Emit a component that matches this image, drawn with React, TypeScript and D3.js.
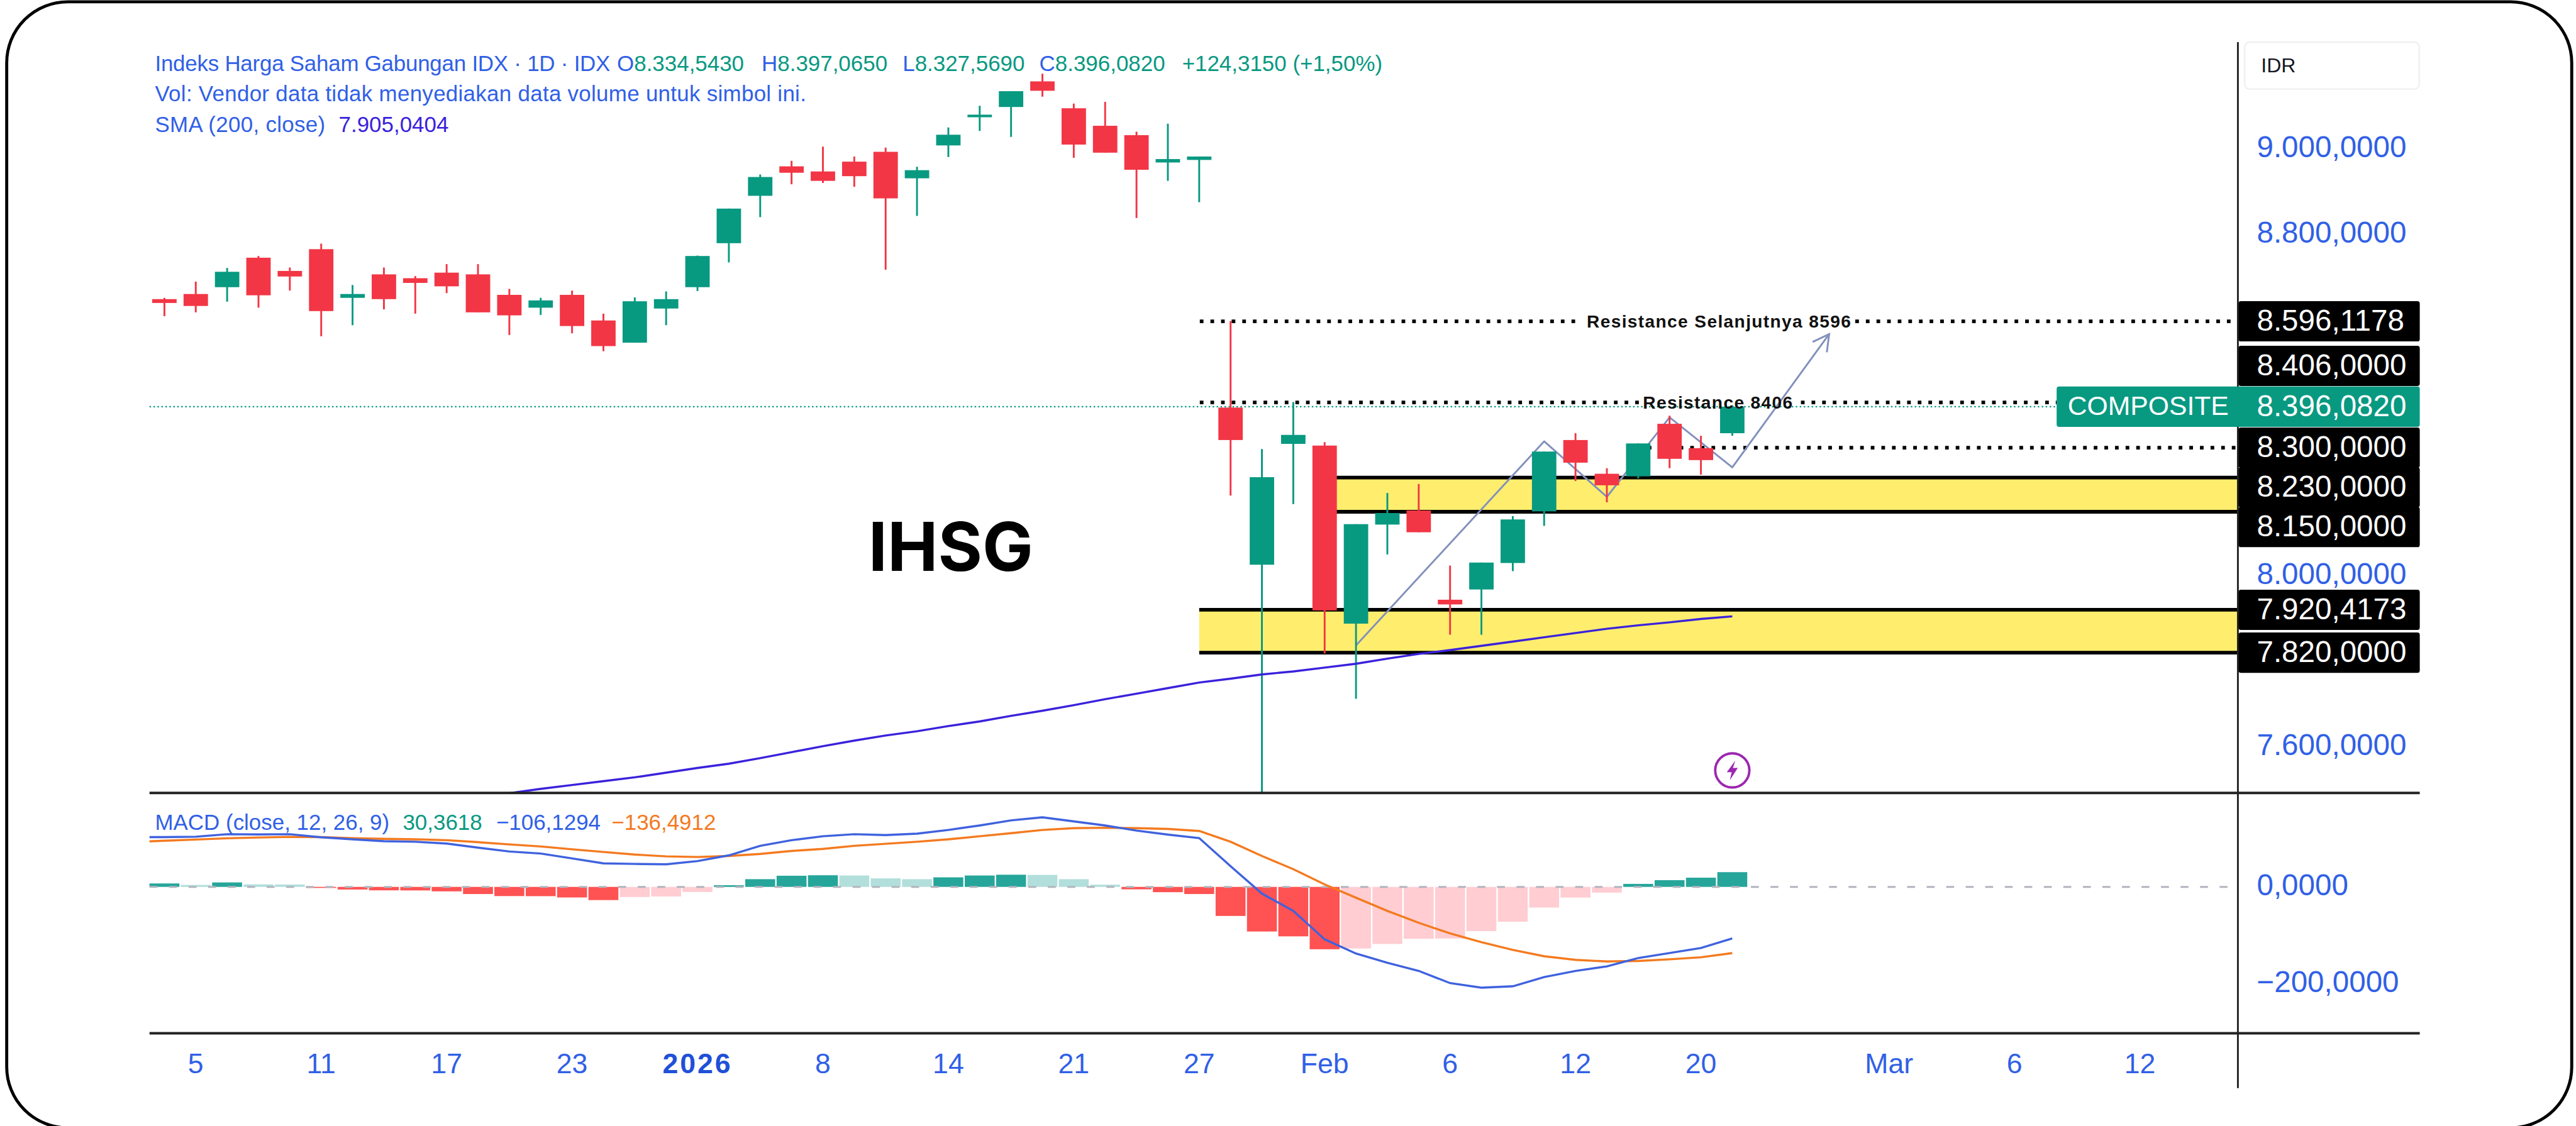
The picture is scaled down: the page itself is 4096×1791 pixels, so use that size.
import React from "react";
import * as d3 from "d3";

// ---- Data ----
const opens = [8648,8660,8676,8745,8714,8765,8651,8706,8697,8710,8706,8658,8628,8658,8598,8546,8626,8676,8779,8890,8959,8947,8970,8993,8931,9008,9074,9098,9158,9095,9054,9032,8968,8974,8394,8026,8309,8305,7888,8120,8153,7944,7968,8030,8151,8318,8239,8233,8356,8299,8334];
const highs = [8651,8689,8721,8749,8722,8778,8681,8722,8702,8730,8730,8672,8651,8668,8614,8652,8666,8750,8860,8940,8972,9005,8982,9003,8958,9050,9101,9135,9176,9106,9110,9040,9059,8982,8597,8297,8407,8313,8121,8194,8215,8024,8031,8140,8291,8334,8252,8310,8375,8328,8397];
const lows = [8608,8617,8642,8628,8668,8561,8587,8624,8614,8662,8617,8564,8611,8568,8526,8546,8587,8667,8734,8840,8917,8920,8911,8717,8843,8981,9042,9028,9122,8979,8991,8838,8925,8875,8188,7480,8168,7818,7712,8050,8102,7862,7862,8011,8117,8222,8172,8228,8252,8237,8328];
const closes = [8639,8632,8712,8657,8701,8620,8660,8648,8686,8678,8617,8610,8645,8585,8538,8643,8648,8749,8860,8934,8944,8925,8936,8884,8950,9033,9080,9135,9136,9010,8991,8951,8976,8982,8318,8231,8330,7919,8121,8147,8102,7933,8031,8132,8291,8265,8212,8310,8274,8271,8396];

const smaStart = 11;
const smaValues = [7491,7501,7510,7519,7528,7539,7550,7560,7573,7587,7601,7614,7626,7636,7648,7659,7672,7684,7697,7711,7724,7737,7750,7759,7769,7776,7785,7794,7806,7817,7826,7836,7846,7856,7866,7876,7884,7891,7899,7905];

// Both MACD lines start one bar before the first candle; the pane's left edge clips them.
const macdStart = -1;
const macdLine = [102.5,102.7,103.5,108.6,108.2,108.6,102.3,98.1,94.3,93.1,89.3,80.9,73,68.8,58.7,48.6,47.4,46.5,53.2,65,84.7,96.4,104.4,108.6,106.9,109.8,117.4,126.7,137.1,143.4,135,126.7,116.1,107.8,100.6,42.8,-13.8,-49.5,-108.2,-137.5,-156.4,-173.2,-198.4,-207.8,-205,-186,-173.3,-164,-146.7,-136.4,-126,-106.1];
const signalLine = [92.5,95.2,97.7,100.2,101.9,103.1,102.7,100.6,99,98.1,96.4,92.2,87.6,83.4,77.6,72.1,66.7,62.9,61.6,63.8,67.9,74.2,78.4,84.7,88.9,93.1,98.1,104.4,110.7,117.4,121.1,122,121.1,119.5,115.3,93.1,63.8,36.5,5,-22.3,-49.5,-74,-96,-114,-130,-143,-150.5,-153.8,-152.8,-149.3,-145.2,-136.5];
const histogram = [7.1,4,9.2,5.2,5,-2.1,-5.4,-7.1,-7.3,-9.2,-14.7,-18.9,-19.1,-21.8,-27.2,-20.9,-19.7,-10.5,3.4,15.9,23,24,23.5,17.6,15.9,19.7,23.5,25.1,24.7,15.9,4.6,-5,-10.9,-14.7,-59.9,-92,-102,-128.6,-127,-117.7,-107,-106.5,-91.3,-71.8,-42.6,-22,-11.8,6.2,13.9,19,30.4];

const trendBars = [38,44,46,48,50,53.09];
const trendPrices = [7837,8315,8185,8371,8254,8566];

const zones = [{ from: 37, top: 8230, bottom: 8150 }, { from: 33, top: 7920.4, bottom: 7820 }];

const priceTicks = [9000, 8800, 8000, 7600];
const priceTickLabels = ["9.000,0000", "8.800,0000", "8.000,0000", "7.600,0000"];
const macdTicks = [0, -200];
const macdTickLabels = ["0,0000", "\u2212200,0000"];
const timeTickBars = [1,5,9,13,17,21,25,29,33,37,41,45,49,55,59,63];
const timeTickLabels = ["5","11","17","23","2026","8","14","21","27","Feb","6","12","20","Mar","6","12"];

const levelValues = [8596.1178, 8406, 8300, 8230, 8150, 7920.4173, 7820];
const levelLabels = ["8.596,1178", "8.406,0000", "8.300,0000", "8.230,0000", "8.150,0000", "7.920,4173", "7.820,0000"];
const levelNudges = [0, -60, 0, 16, 25, 0, 0];
const lastPrice = 8396.082;

// ---- Colours ----
const UP = "#089981", DOWN = "#F23645";
const BLUE = "#3060E6", SMA = "#3A22DC", ORANGE = "#F47A1F", MACD_BLUE = "#3F62DE", YELLOW = "#FFEE6E";
const FONT = "'Liberation Sans', Arial, sans-serif";

// ---- Scales (viewBox is the reference's own 4221x1846) ----
const xBar = d3.scaleLinear().domain([0, 50]).range([269.4, 2838.5]);
const y = d3.scaleLinear().domain([7600, 9000]).range([1224, 244]);
const yM = d3.scaleLinear().domain([0, -200]).range([1454, 1613]);

const PL = 245, PR = 3667, AXR = 3965, PT = 69, PB = 1300, MB = 1694;

const smaPath = d3.line<number>().x((_, i) => xBar(i + smaStart)).y((d) => y(d))(smaValues)!;
const macdPath = d3.line<number>().x((_, i) => xBar(i + macdStart)).y((d) => yM(d))(macdLine)!;
const signalPath = d3.line<number>().x((_, i) => xBar(i + macdStart)).y((d) => yM(d))(signalLine)!;
const trendPts = trendBars.map((b, i) => [xBar(b), y(trendPrices[i])] as [number, number]);
const trendPath = d3.line()(trendPts)!;

function arrowHead(): string {
  const a = trendPts[trendPts.length - 1], b = trendPts[trendPts.length - 2];
  const ang = Math.atan2(a[1] - b[1], a[0] - b[0]);
  const L = 30, s = 0.5;
  const p1 = [a[0] - L * Math.cos(ang - s), a[1] - L * Math.sin(ang - s)];
  const p2 = [a[0] - L * Math.cos(ang + s), a[1] - L * Math.sin(ang + s)];
  return `M${p1[0]},${p1[1]} L${a[0]},${a[1]} L${p2[0]},${p2[1]}`;
}

function histColor(i: number): string {
  const v = histogram[i], prev = i > 0 ? histogram[i - 1] : 0;
  if (v >= 0) return v > prev ? "#26A69A" : "#B2DFDB";
  return v <= prev ? "#FF5252" : "#FFCDD2";
}

const T = (p: any) => <text fontFamily={FONT} {...p} />;

export default function App() {
  const dotted = { stroke: "#000", strokeWidth: 6, strokeDasharray: "6 11.4" };
  const yTag = y(lastPrice);
  return (
    <svg
      xmlns="http://www.w3.org/2000/svg"
      width={4096}
      height={1791}
      viewBox="0 0 4221 1846"
      preserveAspectRatio="none"
      style={{ position: "absolute", left: 0, top: 0, display: "block", background: "#fff" }}
    >
      <defs>
        <clipPath id="pricePane"><rect x={PL} y={PT} width={PR - PL} height={PB - PT} /></clipPath>
        <clipPath id="macdPane"><rect x={PL} y={PB} width={PR - PL} height={MB - PB} /></clipPath>
      </defs>
      <rect x={0} y={0} width={4221} height={1846} fill="#fff" />
      <rect x={11} y={3} width={4203} height={1846} rx={100} ry={100} fill="none" stroke="#000" strokeWidth={5} />

      {/* last price line */}
      <line x1={PL} x2={3370} y1={yTag} y2={yTag} stroke={UP} strokeWidth={2.5} strokeDasharray="2.5 4" />

      {/* zones */}
      {zones.map((z, i) => {
        const x0 = xBar(z.from);
        return (
          <g key={i}>
            <rect x={x0} y={y(z.top)} width={PR - x0} height={y(z.bottom) - y(z.top)} fill={YELLOW} />
            <line x1={x0} x2={PR} y1={y(z.top)} y2={y(z.top)} stroke="#000" strokeWidth={6} />
            <line x1={x0} x2={PR} y1={y(z.bottom)} y2={y(z.bottom)} stroke="#000" strokeWidth={6} />
          </g>
        );
      })}

      {/* dotted levels */}
      <line x1={1966} x2={2592} y1={y(8596)} y2={y(8596)} {...dotted} />
      <line x1={3040} x2={PR} y1={y(8596)} y2={y(8596)} {...dotted} />
      <line x1={1966} x2={2686} y1={y(8406)} y2={y(8406)} {...dotted} />
      <line x1={2951} x2={3370} y1={y(8406)} y2={y(8406)} {...dotted} />
      <line x1={2700} x2={PR} y1={y(8300)} y2={y(8300)} {...dotted} />

      {/* trend drawing */}
      <path d={trendPath} fill="none" stroke="#8290BC" strokeWidth={3} strokeLinejoin="round" />
      <path d={arrowHead()} fill="none" stroke="#8290BC" strokeWidth={3} />

      {/* candles */}
      <g clipPath="url(#pricePane)">
        {opens.map((o, i) => {
          const c = closes[i];
          const col = c >= o ? UP : DOWN;
          const top = y(Math.max(o, c)), bot = y(Math.min(o, c));
          const x = xBar(i);
          return (
            <g key={i}>
              <line x1={x} x2={x} y1={y(highs[i])} y2={y(lows[i])} stroke={col} strokeWidth={3} />
              <rect x={x - 20} y={top} width={40} height={Math.max(bot - top, 2)} fill={col} />
            </g>
          );
        })}
        <path d={smaPath} fill="none" stroke={SMA} strokeWidth={3.5} />
      </g>

      {/* annotations */}
      <T x={2600} y={y(8596)} dy="0.36em" fontSize={29} fontWeight={700} fill="#111" letterSpacing={1.4}>Resistance Selanjutnya 8596</T>
      <T x={2692} y={y(8406)} dy="0.36em" fontSize={29} fontWeight={700} fill="#111" letterSpacing={1.4}>Resistance 8406</T>
      <text x={1558} y={936} textAnchor="middle" fontFamily="Inter, sans-serif" fontSize={111} fontWeight={700} fill="#000">IHSG</text>

      {/* legend */}
      <g fontSize={36} fill={BLUE}>
        <T x={254} y={116} textLength={746} lengthAdjust="spacing">Indeks Harga Saham Gabungan IDX · 1D · IDX</T>
        <T x={1011} y={116}>O<tspan fill={UP}>8.334,5430</tspan></T>
        <T x={1248} y={116}>H<tspan fill={UP}>8.397,0650</tspan></T>
        <T x={1479} y={116}>L<tspan fill={UP}>8.327,5690</tspan></T>
        <T x={1703} y={116}>C<tspan fill={UP}>8.396,0820</tspan></T>
        <T x={1937} y={116} fill={UP}>+124,3150 (+1,50%)</T>
        <T x={254} y={166} textLength={1067} lengthAdjust="spacing">Vol: Vendor data tidak menyediakan data volume untuk simbol ini.</T>
        <T x={254} y={216} textLength={279} lengthAdjust="spacing">SMA (200, close)</T>
        <T x={555} y={216} fill={SMA}>7.905,0404</T>
      </g>

      {/* pane separators */}
      <line x1={PL} x2={AXR} y1={PB} y2={PB} stroke="#222" strokeWidth={4} />
      <line x1={PL} x2={AXR} y1={MB} y2={MB} stroke="#222" strokeWidth={4} />
      <line x1={PR} x2={PR} y1={PT} y2={1784} stroke="#222" strokeWidth={3} />

      {/* MACD pane */}
      {histogram.map((v, i) => (
        <rect key={i} x={xBar(i) - 24.5} y={Math.min(yM(v), yM(0))} width={49} height={Math.abs(yM(v) - yM(0))} fill={histColor(i)} />
      ))}
      <line x1={PL} x2={PR} y1={yM(0)} y2={yM(0)} stroke="#B2B5BE" strokeWidth={3} strokeDasharray="13 19" />
      <g clipPath="url(#macdPane)">
        <path d={signalPath} fill="none" stroke={ORANGE} strokeWidth={3.5} />
        <path d={macdPath} fill="none" stroke={MACD_BLUE} strokeWidth={3.5} />
      </g>
      <g fontSize={36}>
        <T x={254} y={1361} fill={BLUE}>MACD (close, 12, 26, 9)</T>
        <T x={660} y={1361} fill={UP}>30,3618</T>
        <T x={813} y={1361} fill={BLUE}>{"\u2212106,1294"}</T>
        <T x={1002} y={1361} fill={ORANGE}>{"\u2212136,4912"}</T>
      </g>

      {/* badge */}
      <g transform={`translate(${xBar(50)},1263)`}>
        <circle r={28} fill="#fff" stroke="#9C27B0" strokeWidth={4} />
        <path d="M5,-16 L-9,3 L-1,3 L-4,16 L9,-4 L1,-4 Z" fill="#9C27B0" />
      </g>

      {/* price axis */}
      <rect x={3678} y={69} width={286} height={77} rx={8} fill="#fff" stroke="#F0F0F0" strokeWidth={2.5} />
      <T x={3705} y={119} fontSize={33} fill="#131722">IDR</T>
      {priceTicks.map((v, i) => (
        <T key={v} x={3698} y={y(v) - 4} dy="0.36em" fontSize={49} fill={BLUE}>{priceTickLabels[i]}</T>
      ))}
      {macdTicks.map((v, i) => (
        <T key={v} x={3698} y={yM(v) - 4} dy="0.36em" fontSize={49} fill={BLUE}>{macdTickLabels[i]}</T>
      ))}

      {/* level labels */}
      {levelValues.map((v, i) => {
        const cy = y(v) + levelNudges[i];
        return (
          <g key={v}>
            <rect x={PR + 1} y={cy - 33} width={AXR - PR - 1} height={66} rx={4} fill="#000" />
            <T x={3698} y={cy - 2} dy="0.36em" fontSize={49} fill="#fff">{levelLabels[i]}</T>
          </g>
        );
      })}
      <rect x={3370} y={yTag - 33} width={AXR - 3370} height={66} rx={4} fill={UP} />
      <T x={3388} y={yTag - 2} dy="0.36em" fontSize={44} fill="#fff">COMPOSITE</T>
      <T x={3698} y={yTag - 2} dy="0.36em" fontSize={49} fill="#fff">8.396,0820</T>

      {/* time axis */}
      {timeTickBars.map((b, i) => {
        const bold = timeTickLabels[i] === "2026";
        return (
          <T key={i} x={xBar(b)} y={1743} dy="0.36em" textAnchor="middle" fontSize={46} fontWeight={bold ? 700 : 400} letterSpacing={bold ? 3 : 0} fill={bold ? "#1F50D8" : BLUE}>
            {timeTickLabels[i]}
          </T>
        );
      })}
    </svg>
  );
}
